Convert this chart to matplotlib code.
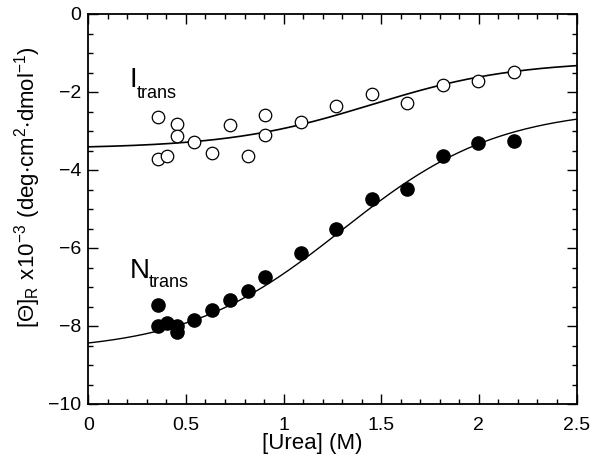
import numpy as np
import matplotlib
matplotlib.use("Agg")
import matplotlib.pyplot as plt
from matplotlib.ticker import MultipleLocator

plt.rcParams['font.family'] = ['Liberation Sans', 'DejaVu Sans']
plt.rcParams['mathtext.fontset'] = 'custom'
plt.rcParams['mathtext.rm'] = 'Liberation Sans'

# Open circles: I_trans
i_urea = [0.358, 0.358, 0.404, 0.453, 0.453, 0.541, 0.632, 0.725, 0.816,
          0.906, 0.906, 1.088, 1.268, 1.451, 1.632, 1.815, 1.997, 2.18]
i_theta = [-2.65, -3.73, -3.64, -2.81, -3.14, -3.29, -3.57, -2.85, -3.64,
           -2.58, -3.11, -2.77, -2.37, -2.04, -2.27, -1.81, -1.71, -1.49]

# Filled circles: N_trans
n_urea = [0.358, 0.358, 0.404, 0.453, 0.453, 0.541, 0.632, 0.725, 0.816,
          0.906, 1.088, 1.268, 1.451, 1.632, 1.815, 1.997, 2.18]
n_theta = [-7.45, -8.01, -7.93, -8.00, -8.16, -7.85, -7.59, -7.33, -7.09,
           -6.75, -6.12, -5.51, -4.74, -4.49, -3.63, -3.32, -3.26]

# Sigmoid fit parameters (low, high, midpoint, width)
i_fit = (-3.45, -1.2, 1.45, 0.37)
n_fit = (-8.67, -2.4, 1.3, 0.4)

xticks = [0, 0.5, 1, 1.5, 2, 2.5]
xticklabels = ['0', '0.5', '1', '1.5', '2', '2.5']
yticks = [0, -2, -4, -6, -8, -10]


def sigmoid(x, p):
    a, b, c, w = p
    return a + (b - a) / (1 + np.exp(-(x - c) / w))


fig = plt.figure(figsize=(6.0, 4.76), dpi=100)
ax = fig.add_axes([88.3 / 600, 1 - 404 / 476, (576.5 - 88.3) / 600, (404 - 14) / 476])

xs = np.linspace(0, 2.5, 300)
ax.plot(xs, sigmoid(xs, i_fit), color='black', lw=1.2)
ax.plot(xs, sigmoid(xs, n_fit), color='black', lw=1.0)

ax.plot(i_urea, i_theta, 'o', ms=9, mfc='white', mec='black', mew=0.9, ls='none')
ax.plot(n_urea, n_theta, 'o', ms=9.5, mfc='black', mec='black', ls='none')

ax.set_xlim(0, 2.5)
ax.set_ylim(-10, 0)
ax.set_xticks(xticks)
ax.set_xticklabels(xticklabels)
ax.set_yticks(yticks)
ax.xaxis.set_minor_locator(MultipleLocator(0.1))
ax.yaxis.set_minor_locator(MultipleLocator(0.5))
ax.tick_params(which='both', direction='in', top=True, right=True, labelsize=14, width=1)
ax.tick_params(which='major', length=7)
ax.tick_params(axis='x', which='major', pad=9)
ax.tick_params(axis='y', which='major', pad=5)
ax.tick_params(which='minor', length=3.5)
for s in ax.spines.values():
    s.set_linewidth(1.3)

ax.set_xlabel('[Urea] (M)', fontsize=16)
ax.xaxis.set_label_coords(0.458, -0.075)
ax.set_ylabel(r'$\mathregular{[\Theta]_R\ x10^{-3}\ (deg{\cdot}cm^2{\cdot}dmol^{-1})}$', fontsize=16)
ax.yaxis.set_label_coords(-0.092, 0.556)

ax.text(0.21, -1.86, 'I', fontsize=20, ha='left', va='baseline')
ax.text(0.249, -2.16, 'trans', fontsize=13, ha='left', va='baseline')
ax.text(0.21, -6.78, 'N', fontsize=20, ha='left', va='baseline')
ax.text(0.311, -7.01, 'trans', fontsize=13, ha='left', va='baseline')

fig.savefig('out.png', dpi=100)
